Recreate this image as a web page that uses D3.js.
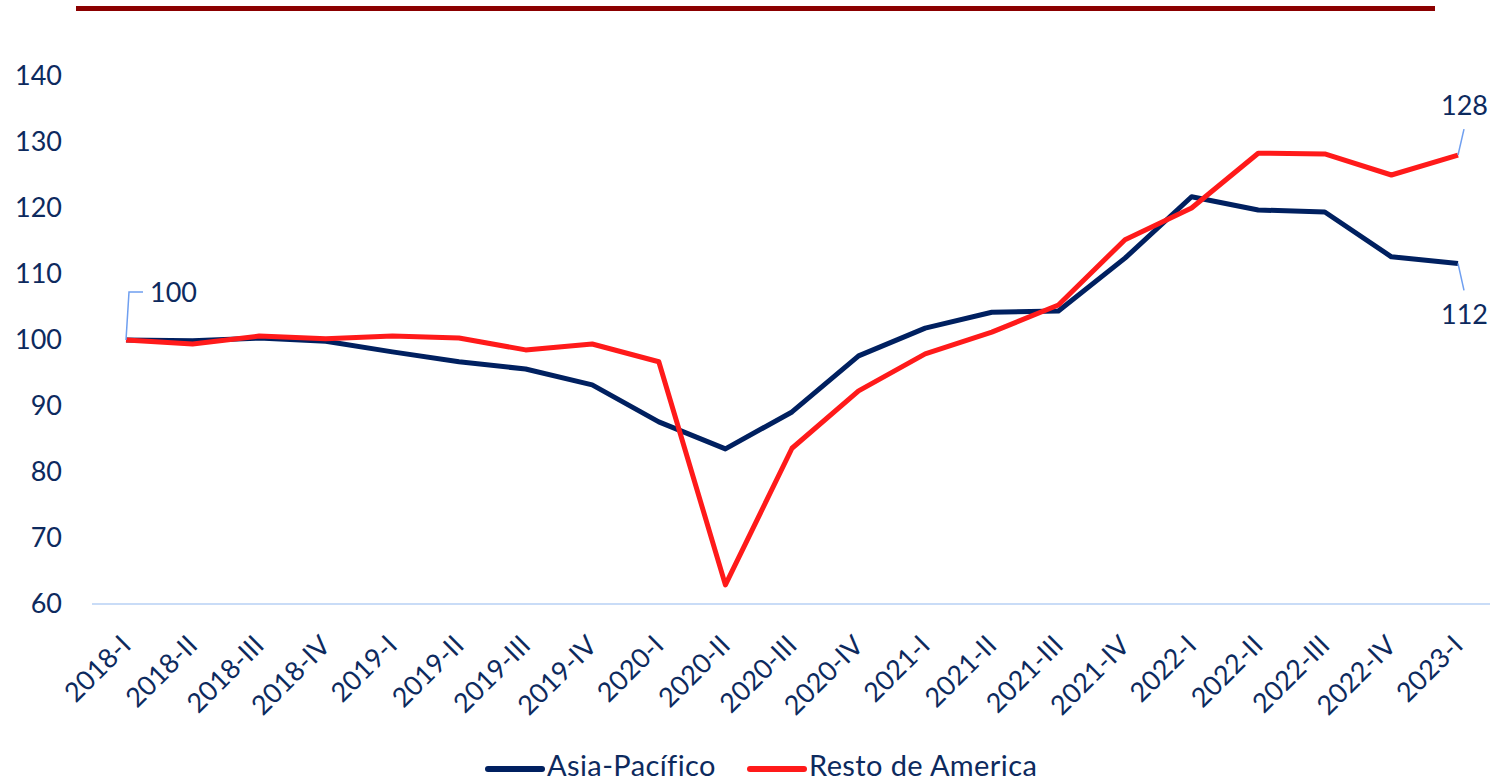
<!DOCTYPE html>
<html>
<head>
<meta charset="utf-8">
<script src="https://cdn.jsdelivr.net/npm/d3@7"></script>
<style>
  body { margin: 0; background: #fff; }
  svg { display: block; font-family: Lato, "Open Sans", sans-serif; }
</style>
</head>
<body>
<div id="chart"></div>
<script>
const WIDTH = 1496;
const HEIGHT = 779;

const quarters = ["2018-I","2018-II","2018-III","2018-IV","2019-I","2019-II","2019-III","2019-IV",
  "2020-I","2020-II","2020-III","2020-IV","2021-I","2021-II","2021-III","2021-IV",
  "2022-I","2022-II","2022-III","2022-IV","2023-I"];
const asiaPacifico = [100, 99.9, 100.3, 99.8, 98.2, 96.7, 95.6, 93.2, 87.6, 83.5, 89.1, 97.6,
  101.8, 104.2, 104.4, 112.4, 121.7, 119.7, 119.4, 112.6, 111.6];
const restoAmerica = [100, 99.4, 100.6, 100.2, 100.6, 100.3, 98.5, 99.4, 96.7, 62.9, 83.6, 92.3,
  97.9, 101.2, 105.3, 115.2, 120.0, 128.3, 128.2, 125.0, 128.0];
const yTicks = [60, 70, 80, 90, 100, 110, 120, 130, 140];
const seriesNames = ["Asia-Pacífico", "Resto de America"];
const COLORS = ["#002060", "#ff1a1a"];
const TEXT = "#0d2a5e";

const svg = d3.select("#chart").append("svg")
  .attr("width", WIDTH)
  .attr("height", HEIGHT);

// dark red bar at top
svg.append("line")
  .attr("x1", 76).attr("x2", 1435)
  .attr("y1", 8.5).attr("y2", 8.5)
  .attr("stroke", "#8b0000")
  .attr("stroke-width", 5);

const x = d3.scalePoint().domain(quarters).range([126, 1458]);
const y = d3.scaleLinear().domain([60, 140]).range([604, 76]);

// y axis labels
const yAxis = svg.append("g")
  .attr("transform", "translate(62,0)")
  .call(d3.axisLeft(y).tickValues(yTicks).tickSize(0).tickPadding(0));
yAxis.select(".domain").remove();
yAxis.selectAll("text")
  .attr("fill", TEXT)
  .attr("font-size", 27)
  .attr("font-family", "Lato, 'Open Sans', sans-serif");

// baseline
svg.append("line")
  .attr("x1", 92).attr("x2", 1490)
  .attr("y1", y(60)).attr("y2", y(60))
  .attr("stroke", "#c9dcf7")
  .attr("stroke-width", 2);

// x axis labels
const xAxis = svg.append("g")
  .attr("transform", "translate(0," + y(60) + ")")
  .call(d3.axisBottom(x).tickSize(0).tickPadding(0));
xAxis.select(".domain").remove();
xAxis.selectAll("text")
  .attr("fill", TEXT)
  .attr("font-size", 27)
  .attr("font-family", "Lato, 'Open Sans', sans-serif")
  .attr("text-anchor", "end")
  .attr("dy", null)
  .attr("y", 0)
  .attr("transform", "translate(6,43) rotate(-45)");

// lines
const line = d3.line()
  .x((d, i) => x(quarters[i]))
  .y(d => y(d));

[asiaPacifico, restoAmerica].forEach(function (vals, k) {
  svg.append("path")
    .datum(vals)
    .attr("fill", "none")
    .attr("stroke", COLORS[k])
    .attr("stroke-width", 5)
    .attr("stroke-linejoin", "round")
    .attr("d", line);
});

// data labels with leader lines
const last = quarters.length - 1;
const leaders = svg.append("g")
  .attr("fill", "none")
  .attr("stroke", "#6f9ff0")
  .attr("stroke-width", 1.5);
leaders.append("polyline")
  .attr("points", [[x(quarters[0]), y(asiaPacifico[0])], [x(quarters[0]) + 3, y(asiaPacifico[0]) - 48], [x(quarters[0]) + 17, y(asiaPacifico[0]) - 48]].join(" "));
leaders.append("line")
  .attr("x1", x(quarters[last])).attr("y1", y(restoAmerica[last]))
  .attr("x2", x(quarters[last]) + 6).attr("y2", y(restoAmerica[last]) - 26);
leaders.append("line")
  .attr("x1", x(quarters[last])).attr("y1", y(asiaPacifico[last]))
  .attr("x2", x(quarters[last]) + 6).attr("y2", y(asiaPacifico[last]) + 27);

const labels = svg.append("g")
  .attr("fill", TEXT)
  .attr("font-size", 27);
labels.append("text")
  .attr("x", x(quarters[0]) + 24).attr("y", y(asiaPacifico[0]) - 38)
  .text(Math.round(asiaPacifico[0]));
labels.append("text")
  .attr("x", x(quarters[last]) + 30).attr("y", y(restoAmerica[last]) - 40)
  .attr("text-anchor", "end")
  .text(Math.round(restoAmerica[last]));
labels.append("text")
  .attr("x", x(quarters[last]) + 30).attr("y", y(asiaPacifico[last]) + 61)
  .attr("text-anchor", "end")
  .text(Math.round(asiaPacifico[last]));

// legend
const legendX = [488, 750];
const legend = svg.append("g");
seriesNames.forEach(function (name, k) {
  legend.append("line")
    .attr("x1", legendX[k]).attr("x2", legendX[k] + 54)
    .attr("y1", 769).attr("y2", 769)
    .attr("stroke", COLORS[k])
    .attr("stroke-width", 6)
    .attr("stroke-linecap", "round");
  legend.append("text")
    .attr("x", legendX[k] + 59).attr("y", 776)
    .attr("fill", TEXT)
    .attr("font-size", 29)
    .attr("letter-spacing", 0.4)
    .text(name);
});
</script>
</body>
</html>
